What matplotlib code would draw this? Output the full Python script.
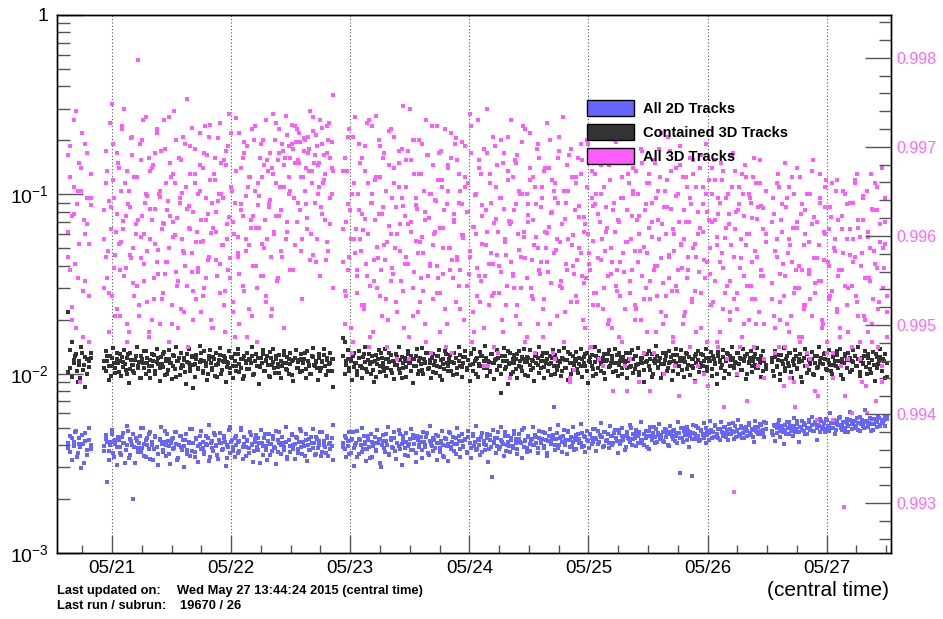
import numpy as np
import pandas as pd
import matplotlib
matplotlib.use('Agg')
import matplotlib.pyplot as plt
import matplotlib.dates as mdates
from matplotlib.ticker import LogLocator, FuncFormatter, NullFormatter, MultipleLocator, FormatStrFormatter
from matplotlib.patches import Patch

plt.rcParams['font.family'] = 'Liberation Sans'
plt.rcParams['mathtext.fontset'] = 'custom'
plt.rcParams['mathtext.rm'] = 'Liberation Sans'
plt.rcParams['mathtext.it'] = 'Liberation Sans:italic'
plt.rcParams['mathtext.bf'] = 'Liberation Sans:bold'

# ---- run periods (central time) ----
run_start = ['2015-05-20 15:12', '2015-05-20 22:26', '2015-05-22 22:34', '2015-05-26 12:58']
run_end = ['2015-05-20 19:41', '2015-05-22 20:34', '2015-05-26 11:46', '2015-05-27 12:07']

# Each series is sampled in several passes during every run period.

# ---- All 2D Tracks, units of 1e-5 ----
all2d = [
    [412, 365, 438, 395, 470, 342, 405, 388, 455, 318, 421, 376, 498, 402],
    [395, 430, 250, 372, 418, 460, 341, 405, 388, 427,
     362, 445, 410, 318, 398, 476, 352, 420, 200, 391,
     437, 368, 412, 495, 383, 349, 428, 401, 462, 336,
     415, 379, 447, 392, 311, 433, 405, 366, 482, 398,
     421, 357, 410, 438, 385, 470, 329, 402, 449, 376,
     394, 426, 355, 413, 489, 371, 408, 343, 431, 397,
     452, 382, 418, 365, 404, 440, 326, 411, 387, 466,
     399, 353, 425, 408, 375, 447, 416, 338, 392, 505,
     418, 372, 436, 398, 361, 423, 485, 389, 407, 346,
     429, 384, 455, 403, 369, 415, 392, 440, 318, 410,
     396, 462, 377, 421, 350, 407, 433, 388, 478, 364,
     412, 399, 445, 373, 418, 335, 427, 396, 458, 381,
     406, 437, 362, 492, 389, 415, 347, 428, 401, 374,
     443, 385, 410, 356, 431, 398, 470, 367, 419, 392,
     436, 348, 412, 395, 520],
    [412, 378, 440, 396, 355, 428, 470, 384, 409, 345,
     432, 398, 367, 451, 405, 380, 424, 339, 415, 393,
     446, 372, 408, 430, 300, 419, 387, 462, 401, 358,
     425, 392, 438, 369, 412, 484, 381, 404, 447, 350,
     418, 396, 433, 374, 456, 407, 362, 429, 390, 441,
     377, 415, 402, 468, 353, 423, 395, 436, 384, 410,
     449, 368, 420, 398, 341, 431, 407, 475, 389, 416,
     370, 437, 403, 452, 382, 419, 396, 428, 359, 444,
     408, 386, 463, 417, 375, 430, 398, 445, 365, 421,
     402, 458, 381, 425, 265, 412, 437, 394, 470, 388,
     427, 404, 451, 372, 418, 396, 440, 383, 462, 409,
     379, 433, 415, 487, 392, 424, 367, 446, 405, 430,
     398, 455, 411, 384, 439, 420, 474, 393, 428, 361,
     447, 410, 432, 650, 399, 465, 386, 438, 415, 452,
     402, 427, 480, 391, 443, 418, 376, 456, 424, 435,
     409, 468, 397, 441, 429, 385, 462, 437, 416, 490,
     431, 403, 455, 444, 392, 475, 423, 458, 412, 447,
     398, 466, 436, 419, 484, 405, 452, 427, 373, 461,
     440, 415, 497, 433, 458, 396, 448, 470, 424, 411,
     463, 437, 388, 479, 452, 426, 505, 443, 414, 468,
     435, 457, 421, 492, 446, 398, 474, 461, 432, 485,
     450, 412, 468, 280, 439, 496, 458, 425, 477, 448,
     270, 465, 434, 510, 452, 419, 481, 462, 437, 499,
     456, 428, 488, 471, 443, 515, 462, 436, 494, 475,
     449, 506, 468, 427, 492, 458, 530, 474, 445, 486,
     463, 512, 437, 495, 478, 452, 520, 469, 488, 441,
     503, 476, 458, 525, 482, 466, 540, 490],
    [482, 455, 510, 468, 527, 441, 495, 474, 518, 462,
     500, 537, 478, 452, 514, 489, 543, 470, 505, 486,
     528, 461, 497, 552, 483, 515, 476, 536, 498, 520,
     470, 545, 507, 489, 560, 512, 478, 533, 501, 549,
     487, 525, 563, 496, 518, 540, 472, 531, 508, 555,
     492, 528, 546, 510, 485, 570, 521, 537, 499, 548,
     515, 534, 480, 559, 527, 545, 503, 568, 519, 540,
     552, 511, 575],
]
all2d_p2 = [
    [385, 452, 330, 418, 478, 362, 436, 297, 405, 466, 350, 428, 380],
    [372, 455, 418, 330, 401, 487, 363, 426, 309, 445,
     392, 350, 468, 413, 377, 512, 340, 431, 398, 462,
     318, 420, 385, 449, 366, 495, 407, 345, 436, 379,
     473, 402, 328, 441, 390, 356, 425, 505, 373, 414,
     347, 458, 396, 312, 433, 381, 470, 405, 338, 451,
     389, 425, 300, 463, 377, 416, 349, 492, 410, 365,
     439, 321, 404, 477, 386, 355, 448, 398, 517, 342,
     420, 371, 456, 395, 333, 467, 411, 380, 437, 305,
     401, 483, 359, 426, 390, 345, 452, 414, 371, 498,
     334, 443, 388, 419, 362, 475, 399, 323, 430, 457,
     376, 410, 486, 351, 439, 395, 328, 461, 404, 369,
     448, 385, 315, 427, 472, 357, 412, 391, 502, 343,
     424, 367, 453, 401, 336, 444, 382, 416, 479, 358,
     397, 462, 325, 433, 375, 410, 489, 352, 441, 386,
     419, 346, 470, 399, 360, 452, 407, 381, 438, 330],
    [388, 452, 341, 419, 470, 362, 435, 306, 401, 478,
     356, 427, 495, 380, 414, 327, 448, 392, 463, 345,
     410, 373, 486, 432, 318, 399, 457, 366, 421, 502,
     352, 440, 387, 471, 335, 413, 396, 458, 310, 429,
     383, 466, 348, 407, 492, 374, 436, 321, 451, 398,
     417, 339, 474, 389, 443, 360, 509, 403, 370, 425,
     455, 331, 412, 386, 481, 349, 437, 395, 324, 468,
     378, 446, 403, 358, 499, 420, 342, 459, 391, 433,
     365, 476, 410, 337, 448, 396, 512, 381, 428, 353,
     469, 405, 374, 440, 320, 457, 392, 486, 418, 361,
     437, 382, 503, 415, 346, 470, 401, 452, 368, 425,
     395, 481, 430, 357, 462, 410, 339, 498, 421, 387,
     451, 372, 426, 507, 398, 443, 360, 478, 412, 435,
     384, 466, 349, 422, 493, 407, 456, 376, 431, 515,
     402, 445, 368, 483, 419, 358, 470, 427, 396, 504,
     438, 381, 461, 412, 525, 391, 449, 366, 476, 423,
     459, 405, 492, 437, 372, 481, 418, 529, 446, 395,
     470, 428, 384, 508, 452, 411, 487, 436, 363, 464,
     421, 497, 447, 390, 475, 432, 518, 402, 458, 440,
     486, 413, 462, 535, 426, 399, 478, 450, 380, 503,
     443, 469, 408, 492, 455, 527, 431, 474, 417, 488,
     460, 395, 512, 448, 482, 423, 465, 541, 437, 496,
     415, 476, 453, 506, 389, 470, 435, 519, 461, 444,
     498, 428, 485, 457, 532, 410, 479, 466, 548, 439,
     473, 512, 450, 494, 425, 538, 468, 503, 441, 487,
     521, 459, 482, 430, 510, 476, 553, 447, 495, 464,
     436, 507, 480, 528, 455, 490, 417, 545, 471, 502,
     462, 519, 488, 443, 531],
    [468, 520, 420, 495, 553, 476, 508, 405, 487, 535,
     458, 512, 490, 566, 471, 527, 415, 503, 548, 482,
     519, 463, 540, 497, 575, 478, 524, 425, 510, 561,
     489, 533, 470, 550, 506, 600, 495, 528, 462, 545,
     515, 572, 486, 538, 500, 556, 474, 615, 521, 547,
     496, 563, 530, 481, 552, 512, 630, 538, 505, 568,
     526, 488, 559, 540, 580, 512, 549, 531, 572, 556],
]

# ---- Contained 3D Tracks, units of 1e-4 ----
cont3d = [
    [220, 108, 150, 115, 126, 104, 118, 95, 131, 112, 84, 121, 109, 123],
    [118, 104, 126, 111, 97, 122, 115, 108, 131, 102,
     117, 124, 109, 113, 99, 128, 106, 119, 112, 101,
     125, 110, 116, 94, 121, 108, 133, 114, 103, 119,
     111, 127, 100, 116, 122, 107, 113, 129, 98, 118,
     105, 121, 114, 110, 126, 96, 117, 123, 108, 112,
     119, 102, 128, 115, 109, 124, 83, 113, 120, 106,
     116, 130, 104, 118, 111, 99, 125, 114, 107, 121,
     112, 96, 119, 127, 105, 116, 122, 109, 115, 101,
     124, 110, 117, 103, 129, 113, 108, 120, 97, 118,
     106, 121, 114, 126, 100, 117, 111, 123, 109, 115,
     128, 104, 119, 112, 96, 122, 116, 107, 125, 113,
     101, 118, 110, 127, 115, 105, 121, 113, 98, 119,
     123, 108, 116, 102, 120, 114, 131, 106, 117, 111,
     99, 124, 112, 118, 107, 122, 104, 116, 127, 110,
     119, 103, 115, 121, 84],
    [158, 150, 112, 121, 104, 117, 126, 109, 115, 98,
     123, 111, 107, 128, 116, 102, 119, 113, 125, 105,
     118, 96, 121, 110, 131, 114, 103, 120, 108, 116,
     127, 101, 117, 112, 124, 106, 119, 95, 114, 122,
     109, 129, 115, 104, 120, 111, 126, 99, 118, 113,
     105, 121, 116, 130, 108, 114, 123, 102, 117, 110,
     125, 97, 119, 113, 106, 128, 111, 120, 103, 116,
     114, 122, 100, 118, 127, 109, 115, 124, 107, 119,
     112, 131, 104, 117, 121, 96, 113, 126, 110, 118,
     123, 108, 116, 102, 129, 114, 119, 105, 122, 111,
     78, 117, 125, 109, 134, 113, 99, 120, 115, 106,
     128, 110, 118, 103, 121, 116, 124, 97, 112, 119,
     107, 126, 114, 122, 101, 117, 130, 109, 115, 120,
     113, 98, 123, 111, 127, 105, 118, 116, 104, 121,
     119, 108, 132, 114, 100, 125, 112, 117, 106, 123,
     110, 120, 115, 128, 103, 118, 124, 111, 97, 116,
     126, 107, 119, 113, 122, 101, 117, 129, 109, 114,
     121, 115, 104, 127, 112, 118, 99, 124, 116, 108,
     117, 130, 110, 120, 106, 125, 113, 102, 119, 123,
     105, 116, 128, 111, 121, 96, 118, 114, 126, 109,
     122, 113, 100, 119, 131, 108, 115, 124, 103, 117,
     114, 127, 110, 118, 105, 122, 116, 129, 112, 98,
     120, 107, 125, 115, 119, 102, 128, 111, 117, 123,
     109, 118, 132, 106, 121, 114, 100, 126, 116, 112,
     124, 103, 117, 128, 110, 119, 122, 107, 115, 130,
     113, 121, 105, 118, 126, 99, 116, 123, 111, 117,
     128, 108, 120, 114, 125, 104, 119, 112],
    [116, 104, 124, 110, 119, 99, 127, 113, 107, 121,
     115, 130, 102, 118, 112, 125, 108, 120, 96, 117,
     123, 111, 128, 105, 116, 121, 100, 114, 126, 109,
     118, 122, 113, 131, 106, 119, 115, 103, 124, 112,
     110, 127, 117, 98, 121, 114, 129, 108, 119, 123,
     105, 116, 125, 111, 120, 102, 118, 113, 126, 109,
     122, 115, 101, 119, 112, 128, 107, 117, 124, 104,
     118, 95, 114],
]
cont3d_p2 = [
    [102, 135, 96, 119, 128, 90, 112, 140, 105, 124, 99, 117, 131],
    [107, 134, 118, 92, 125, 110, 139, 101, 121, 114,
     128, 97, 116, 136, 105, 122, 89, 130, 112, 103,
     119, 141, 108, 95, 126, 115, 133, 99, 123, 111,
     94, 129, 117, 104, 137, 113, 91, 124, 109, 132,
     120, 100, 135, 114, 93, 127, 106, 140, 118, 98,
     131, 110, 122, 88, 116, 138, 103, 125, 112, 96,
     127, 107, 142, 119, 101, 133, 115, 92, 121, 136,
     105, 124, 97, 130, 113, 139, 100, 118, 126, 90,
     116, 134, 108, 122, 95, 128, 111, 137, 102, 120,
     93, 125, 114, 131, 106, 119, 140, 98, 117, 129,
     110, 88, 123, 135, 104, 118, 126, 97, 132, 112,
     138, 101, 120, 109, 127, 94, 115, 133, 106, 124,
     99, 130, 117, 91, 122, 136, 108, 119, 128, 103,
     121, 95, 134, 112, 100, 126, 139, 110, 116, 92,
     129, 107, 118, 137, 98, 123, 113, 131, 104, 120],
    [126, 99, 118, 136, 107, 121, 92, 130, 114, 103,
     133, 111, 95, 124, 140, 106, 119, 128, 100, 116,
     90, 127, 113, 135, 102, 122, 109, 138, 97, 120,
     131, 105, 117, 93, 129, 112, 141, 101, 124, 108,
     118, 96, 134, 115, 126, 89, 121, 110, 137, 104,
     123, 139, 99, 114, 130, 106, 119, 94, 128, 112,
     101, 125, 136, 109, 92, 120, 133, 115, 103, 127,
     116, 98, 131, 122, 107, 140, 111, 96, 124, 134,
     105, 119, 91, 128, 113, 137, 100, 123, 110, 132,
     126, 108, 142, 97, 118, 104, 129, 115, 93, 121,
     136, 111, 99, 125, 139, 106, 117, 88, 130, 114,
     102, 127, 120, 94, 133, 109, 124, 138, 98, 116,
     122, 135, 105, 118, 91, 129, 112, 140, 107, 125,
     95, 117, 131, 103, 126, 114, 136, 100, 121, 110,
     134, 97, 123, 139, 108, 119, 92, 128, 115, 105,
     120, 132, 101, 113, 137, 96, 124, 111, 130, 89,
     116, 127, 106, 141, 99, 122, 133, 104, 118, 128,
     93, 119, 135, 110, 125, 102, 138, 114, 97, 131,
     124, 107, 117, 130, 94, 120, 109, 136, 101, 126,
     112, 139, 98, 123, 115, 90, 129, 118, 134, 105,
     128, 100, 121, 142, 108, 117, 95, 131, 113, 125,
     103, 133, 116, 92, 127, 110, 137, 99, 122, 135,
     118, 96, 130, 106, 124, 140, 111, 120, 91, 129,
     134, 109, 115, 127, 101, 138, 104, 123, 117, 97,
     126, 113, 88, 132, 119, 107, 136, 94, 121, 130,
     100, 125, 140, 110, 116, 98, 131, 122, 105, 137,
     119, 93, 128, 114, 134, 102, 124, 112, 139, 108,
     121, 96, 133, 117, 106],
    [122, 97, 134, 109, 127, 92, 118, 139, 104, 125,
     111, 131, 95, 120, 136, 106, 116, 128, 90, 123,
     137, 101, 119, 113, 132, 98, 126, 108, 140, 115,
     94, 129, 121, 105, 135, 112, 99, 124, 117, 133,
     107, 138, 114, 93, 126, 120, 130, 102, 118, 136,
     125, 110, 141, 97, 122, 115, 134, 100, 128, 106,
     119, 132, 91, 124, 113, 137, 103, 121, 129, 96],
]

# ---- All 3D Tracks, units of 1e-4 ----
all3d = [
    [620, 1850, 235, 1100, 410, 880, 1500, 90, 2200, 720, 330, 950, 530, 1300],
    [820, 450, 1350, 280, 640, 3180, 960, 210, 1700, 530,
     380, 2400, 710, 1150, 190, 880, 460, 2050, 320, 1250,
     600, 5600, 240, 1550, 760, 410, 2700, 980, 170, 560,
     1400, 340, 830, 2200, 490, 1050, 260, 690, 1800, 420,
     920, 150, 1250, 580, 2900, 370, 740, 1600, 230, 1020,
     470, 1900, 310, 860, 640, 2350, 200, 1150, 540, 390,
     1450, 720, 270, 1700, 950, 430, 2100, 610, 180, 1300,
     800, 350, 1000, 2500, 520, 1550, 290, 680, 1850, 440,
     1100, 220, 900, 2650, 580, 360, 1400, 760, 1950, 480,
     160, 1250, 650, 2300, 400, 1050, 300, 870, 1600, 530,
     2000, 720, 250, 1350, 930, 450, 2800, 620, 1150, 340,
     1700, 820, 1900, 1450, 560, 2150, 1000, 1600, 380, 1800,
     2400, 700, 1550, 1950, 480, 1250, 2000, 880, 1700, 1350,
     600, 2250, 1500, 420, 1850, 1100, 2600, 780, 1650, 1300,
     540, 2000, 950, 1400, 3600],
    [420, 1600, 270, 880, 2300, 560, 150, 1150, 640, 350,
     1900, 480, 780, 230, 1350, 2500, 600, 310, 1000, 170,
     720, 2750, 440, 1250, 380, 850, 1700, 260, 540, 1450,
     330, 960, 2100, 500, 120, 1100, 680, 1800, 290, 760,
     1550, 410, 3000, 620, 210, 1300, 870, 470, 2000, 340,
     580, 1050, 190, 1650, 740, 400, 2400, 520, 930, 280,
     1200, 650, 1750, 360, 820, 140, 1400, 500, 2200, 430,
     700, 250, 1550, 900, 380, 1950, 590, 1100, 310, 800,
     450, 1700, 220, 990, 600, 2600, 350, 1300, 530, 180,
     820, 3000, 410, 1150, 270, 690, 1850, 460, 130, 950,
     370, 1500, 560, 240, 2100, 710, 420, 1250, 300, 880,
     1650, 490, 190, 1000, 620, 2300, 340, 770, 1400, 430,
     260, 1100, 580, 1900, 380, 850, 160, 1350, 500, 2500,
     660, 320, 1200, 470, 950, 210, 1600, 540, 300, 2700,
     730, 410, 1050, 90, 1800, 590, 360, 1250, 250, 860,
     470, 1550, 320, 680, 2000, 410, 140, 950, 550, 1300,
     280, 780, 1700, 430, 230, 1100, 620, 350, 1450, 500,
     180, 900, 1950, 380, 700, 270, 1250, 470, 110, 820,
     1600, 330, 560, 1000, 240, 1350, 420, 760, 200, 1750,
     510, 300, 1150, 650, 80, 900, 380, 1500, 270, 720,
     1250, 440, 190, 1050, 600, 2100, 340, 830, 150, 480,
     1400, 290, 700, 1850, 390, 560, 220, 1100, 450, 950,
     260, 1300, 530, 170, 800, 370, 1650, 620, 100, 1000,
     420, 1200, 240, 700, 1550, 330, 580, 140, 900, 470,
     1350, 280, 650, 1000, 200, 520, 1700, 22, 800, 230,
     1100, 440, 160, 760, 1450, 310, 600, 950, 260, 1250,
     480, 190, 850, 1550, 350, 640, 120, 1050],
    [320, 950, 180, 560, 1300, 250, 720, 410, 140, 850,
     470, 1100, 210, 650, 90, 380, 1400, 300, 780, 160,
     520, 240, 1000, 360, 120, 680, 1550, 280, 440, 75,
     900, 330, 190, 600, 1200, 420, 260, 750, 130, 500,
     1050, 230, 380, 110, 640, 18, 310, 880, 170, 460,
     60, 560, 1150, 270, 720, 150, 400, 950, 210, 85,
     620, 340, 1300, 190, 480, 70, 820, 250, 540, 110,
     390, 700, 160],
]
all3d_p2 = [
    [1650, 380, 760, 2600, 180, 1050, 530, 1400, 290, 1900, 680, 150, 870],
    [560, 1750, 340, 920, 2500, 270, 1200, 460, 780, 1500,
     210, 1050, 640, 3000, 390, 1350, 170, 850, 2100, 500,
     1250, 310, 720, 1900, 440, 2600, 600, 1000, 250, 1600,
     830, 200, 1450, 530, 2300, 360, 970, 1750, 280, 680,
     1150, 420, 2700, 760, 190, 1300, 590, 2000, 330, 900,
     1550, 480, 220, 1100, 3400, 650, 1850, 370, 800, 1300,
     260, 1000, 2200, 540, 1400, 300, 720, 1650, 450, 2450,
     890, 180, 1200, 620, 2050, 410, 1500, 950, 240, 1750,
     560, 2800, 340, 1050, 700, 160, 1350, 470, 2200, 820,
     1600, 290, 980, 1850, 520, 1250, 210, 760, 2400, 400,
     1150, 650, 1900, 350, 1450, 2600, 560, 880, 1700, 230,
     1300, 2000, 760, 1550, 2300, 480, 1750, 1100, 2750, 620,
     1850, 1050, 2450, 380, 1500, 1950, 900, 2200, 1250, 560,
     2050, 1400, 740, 1800, 2900, 1150, 460, 1650, 2150, 1000,
     1500, 850, 2350, 1200, 430, 1700, 2500, 680, 1950, 1350],
    [1350, 290, 700, 2100, 450, 180, 1000, 560, 2700, 380,
     820, 1500, 240, 630, 1850, 410, 1150, 140, 900, 2400,
     330, 1250, 510, 2000, 270, 780, 1600, 430, 1050, 200,
     2250, 600, 360, 1400, 850, 220, 1750, 480, 950, 3100,
     410, 1100, 680, 160, 1550, 300, 2000, 550, 830, 1300,
     250, 1900, 470, 720, 2600, 350, 1000, 130, 1450, 600,
     920, 400, 1700, 280, 1200, 650, 2300, 190, 1050, 500,
     1600, 340, 780, 2050, 430, 1300, 230, 880, 570, 1850,
     310, 1150, 480, 2400, 660, 170, 1000, 390, 1550, 250,
     870, 1800, 350, 620, 110, 1300, 470, 2100, 280, 730,
     1450, 400, 950, 200, 1700, 540, 310, 1200, 680, 2600,
     360, 820, 1500, 240, 1050, 450, 1950, 580, 150, 1000,
     700, 2200, 300, 1250, 520, 880, 190, 1600, 420, 1100,
     260, 1400, 610, 370, 2000, 790, 130, 1150, 490, 900,
     1750, 330, 680, 1050, 220, 1450, 560, 95, 1250, 400,
     820, 270, 1600, 500, 1900, 350, 750, 180, 1100, 600,
     380, 1350, 240, 880, 1700, 440, 120, 1000, 560, 300,
     1500, 650, 200, 1200, 420, 820, 2000, 310, 720, 160,
     950, 1650, 370, 540, 80, 1150, 280, 760, 1400, 480,
     230, 1000, 600, 1800, 350, 130, 880, 470, 1300, 260,
     700, 1550, 400, 170, 1050, 560, 2200, 320, 850, 210,
     1200, 450, 1750, 290, 640, 110, 980, 380, 1450, 530,
     190, 820, 1250, 340, 700, 1600, 250, 500, 90, 1100,
     600, 1400, 280, 880, 430, 1900, 150, 720, 360, 1000,
     250, 1200, 520, 780, 170, 1500, 390, 65, 950, 310,
     680, 220, 1100, 450, 1350, 280, 820, 140, 560, 1000,
     350, 1250, 600, 200, 900, 420, 1600, 260, 730, 110,
     1150, 380, 840, 190, 540],
    [700, 210, 480, 1150, 140, 360, 880, 270, 1500, 190,
     560, 95, 420, 1000, 300, 650, 160, 1250, 380, 230,
     820, 130, 540, 260, 1350, 440, 80, 700, 330, 960,
     200, 620, 1100, 150, 400, 850, 290, 55, 560, 1200,
     350, 180, 760, 470, 1000, 240, 120, 640, 310, 900,
     450, 1300, 210, 580, 90, 720, 340, 1050, 170, 500,
     830, 260, 1150, 390, 140, 680, 1400, 300, 530, 220],
]
all3d_p3 = [
    [450, 1250, 200, 780, 2900, 340, 1050, 160, 600, 1700, 270, 950],
    [300, 1150, 480, 170, 850, 1900, 390, 620, 230, 1400,
     540, 2300, 350, 760, 150, 1050, 440, 1650, 270, 680,
     1250, 210, 580, 2000, 330, 900, 480, 160, 1350, 720,
     260, 1700, 420, 1000, 190, 640, 2600, 360, 820, 500,
     1500, 240, 700, 1150, 310, 180, 950, 560, 2100, 400,
     830, 140, 1300, 470, 290, 1800, 620, 370, 1050, 220,
     550, 2400, 340, 780, 1200, 200, 650, 1600, 430, 920,
     280, 1000, 520, 170, 1450, 380, 750, 2200, 250, 600,
     1350, 450, 190, 880, 310, 1700, 560, 1100, 230, 720,
     400, 2000, 650, 150, 980, 350, 1250, 500, 270, 1550,
     850, 210, 1400, 600, 2500, 330, 760, 1100, 450, 180,
     1600, 700, 1250, 380, 1900, 950, 520, 2300, 1500, 820,
     260, 1750, 1050, 640, 2100, 430, 1350, 2700, 900, 560,
     1450, 350, 1900, 1150, 720, 2400, 480, 1600, 1000, 300],
    [640, 190, 1350, 380, 820, 130, 2100, 470, 280, 1000,
     560, 1600, 240, 730, 350, 2600, 160, 900, 430, 1200,
     300, 780, 1850, 210, 520, 1050, 140, 670, 2300, 390,
     1150, 250, 600, 1500, 330, 860, 180, 450, 1750, 120,
     700, 2000, 370, 950, 220, 540, 1300, 290, 800, 150,
     1650, 410, 1000, 260, 620, 2400, 340, 170, 1100, 500,
     230, 880, 1450, 380, 130, 720, 1900, 450, 310, 1050,
     590, 200, 1250, 800, 360, 2800, 150, 660, 1000, 270,
     1400, 330, 760, 110, 520, 1700, 240, 900, 410, 140,
     1100, 620, 280, 2000, 170, 830, 460, 1350, 95, 700,
     350, 1550, 210, 600, 1000, 300, 2400, 440, 160, 880,
     1200, 270, 720, 130, 1800, 500, 360, 950, 230, 620,
     420, 1400, 190, 800, 1050, 120, 560, 2100, 310, 680,
     150, 900, 380, 1650, 250, 520, 105, 1150, 430, 750,
     1300, 200, 620, 340, 1900, 470, 140, 860, 280, 1000,
     240, 700, 1450, 110, 480, 850, 190, 1200, 360, 80,
     620, 290, 1650, 420, 150, 950, 230, 540, 1300, 120,
     380, 1050, 200, 720, 90, 480, 1500, 260, 820, 170,
     1150, 330, 580, 130, 950, 400, 1800, 220, 680, 100,
     270, 850, 460, 1350, 160, 600, 310, 1000, 75, 520,
     1250, 210, 700, 380, 140, 880, 1550, 290, 450, 110,
     650, 180, 1100, 340, 800, 85, 500, 1400, 250, 720,
     150, 960, 420, 1200, 230, 570, 120, 780, 330, 1650,
     260, 640, 100, 880, 390, 1300, 190, 520, 70, 1000,
     310, 740, 140, 1150, 450, 220, 860, 350, 95, 600],
    [260, 780, 130, 450, 1100, 200, 620, 85, 350, 950,
     170, 520, 1250, 280, 65, 700, 400, 150, 880, 240,
     600, 110, 380, 1000, 210, 750, 320, 55, 520, 1300,
     180, 430, 850, 130, 640, 270, 1150, 95, 480, 220,
     720, 160, 380, 1050, 75, 560, 300, 900, 140, 420,
     1200, 250, 650, 120, 470, 980, 200, 60, 580, 330,
     150, 820, 410, 1100, 230, 680, 90, 500, 950, 270],
]

series = [('All 2D Tracks', (all2d, all2d_p2), 1e-5, '#6666ff'),
          ('Contained 3D Tracks', (cont3d, cont3d_p2), 1e-4, '#333333'),
          ('All 3D Tracks', (all3d, all3d_p2, all3d_p3), 1e-4, '#ff5cff')]


def run_points(runs, scale):
    ts, vs = [], []
    for s, e, vals in zip(run_start, run_end, runs):
        ts.append(mdates.date2num(pd.date_range(s, e, periods=len(vals)).to_pydatetime()))
        vs.append(np.asarray(vals, float) * scale)
    return np.concatenate(ts), np.concatenate(vs)


fig = plt.figure(figsize=(9.43, 6.19), dpi=100)
ax = fig.add_axes([0.0604, 0.1066, 0.8841, 0.8692])

for name, passes, scale, col in series:
    for runs in passes:
        t, v = run_points(runs, scale)
        ax.plot(t, v, ls='none', marker='s', ms=2.3, mew=0, color=col, zorder=3)

ax.set_yscale('log')
ax.set_ylim(1e-3, 1)
ax.set_xlim(mdates.date2num(pd.Timestamp('2015-05-20 12:54').to_pydatetime()),
            mdates.date2num(pd.Timestamp('2015-05-27 12:54').to_pydatetime()))

ax.xaxis.set_major_locator(mdates.DayLocator())
ax.xaxis.set_major_formatter(mdates.DateFormatter('%m/%d'))
ax.xaxis.set_minor_locator(mdates.HourLocator(byhour=[0, 6, 12, 18]))

ax.yaxis.set_major_locator(LogLocator(base=10, numticks=10))
ax.yaxis.set_minor_locator(LogLocator(base=10, subs=np.arange(2, 10), numticks=20))
ax.yaxis.set_minor_formatter(NullFormatter())


def yfmt(v, pos):
    e = int(round(np.log10(v)))
    return '1' if e == 0 else r'$10^{%d}$' % e


ax.yaxis.set_major_formatter(FuncFormatter(yfmt))

tick_col = '#555555'
ax.tick_params(axis='x', which='major', direction='in', length=13, width=1, color=tick_col,
               labelsize=13.5, pad=5, top=False)
ax.tick_params(axis='x', which='minor', direction='in', length=6, width=1, color=tick_col, top=False)
ax.tick_params(axis='y', which='major', direction='in', length=19, width=1, color=tick_col,
               labelsize=14, pad=6, right=False)
ax.tick_params(axis='y', which='minor', direction='in', length=9.5, width=1, color=tick_col, right=False)
ax.grid(True, axis='x', which='major', ls=(0, (1, 2)), color='#555555', lw=0.8)

# right-hand axis (pink scale)
ax2 = ax.twinx()
ax2.set_ylim(0.99244, 0.99848)
ax2.yaxis.set_major_locator(MultipleLocator(0.001))
ax2.yaxis.set_minor_locator(MultipleLocator(0.0002))
ax2.yaxis.set_major_formatter(FormatStrFormatter('%.3f'))
ax2.tick_params(axis='y', which='major', direction='in', length=19, width=1, color=tick_col,
                labelcolor='#ff66ff', labelsize=11.5, pad=4)
ax2.tick_params(axis='y', which='minor', direction='in', length=9, width=1, color=tick_col)

for a in (ax, ax2):
    for sp in a.spines.values():
        sp.set_color('black')
        sp.set_linewidth(1)

handles = [Patch(facecolor=c, edgecolor='black', linewidth=1) for _, _, _, c in series]
ax2.legend(handles, [n for n, _, _, _ in series], loc='upper left',
           bbox_to_anchor=(587 / 943, 1 - 100 / 619), bbox_transform=fig.transFigure,
           frameon=False, borderpad=0, borderaxespad=0, handlelength=3.2, handleheight=1.3,
           labelspacing=0.55, handletextpad=0.62,
           prop={'weight': 'bold', 'size': 10.5})

fig.text(889 / 943, 1 - 590 / 619, '(central time)', ha='right', va='center', fontsize=15)
fig.text(57 / 943, 1 - 591 / 619, 'Last updated on:', ha='left', va='center', fontsize=9.3, weight='bold')
fig.text(177 / 943, 1 - 591 / 619, 'Wed May 27 13:44:24 2015 (central time)', ha='left', va='center',
         fontsize=9.3, weight='bold')
fig.text(57 / 943, 1 - 606 / 619, 'Last run / subrun:', ha='left', va='center', fontsize=9.3, weight='bold')
fig.text(180 / 943, 1 - 606 / 619, '19670 / 26', ha='left', va='center', fontsize=9.3, weight='bold')

fig.savefig('out.png', dpi=100)
